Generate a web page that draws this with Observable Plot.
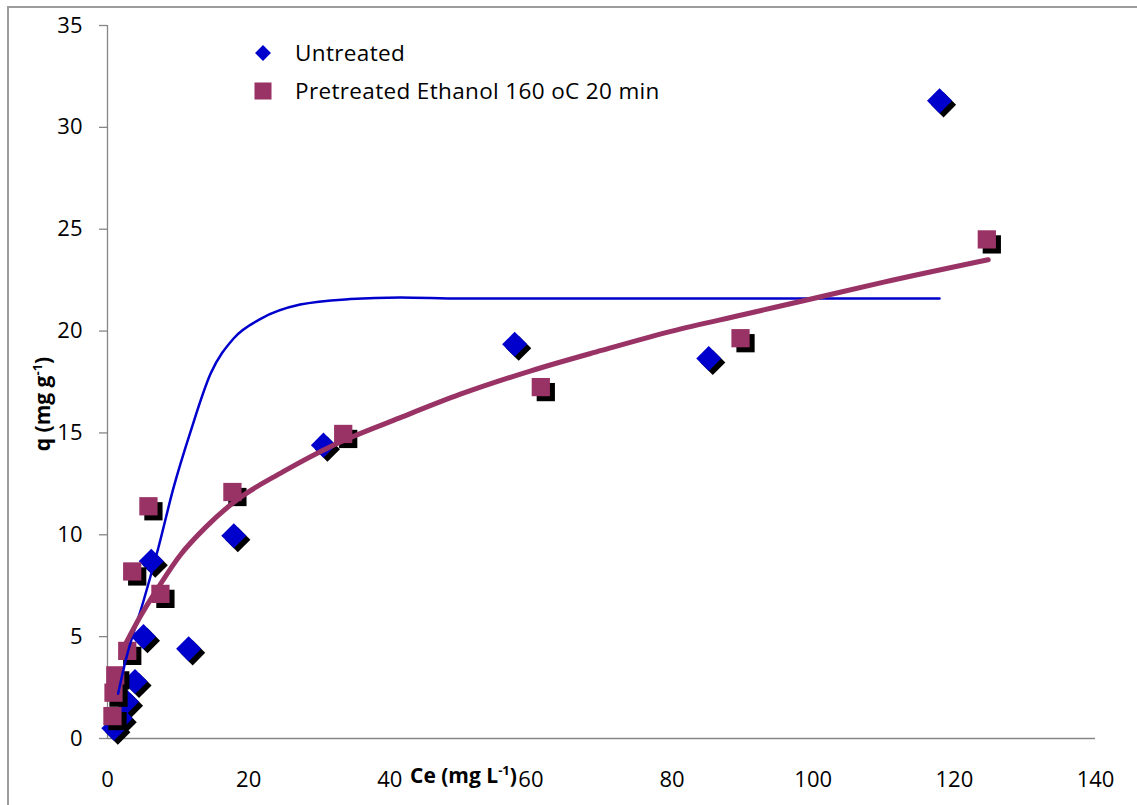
<!DOCTYPE html>
<html>
<head>
<meta charset="utf-8">
<script src="https://cdn.jsdelivr.net/npm/d3@7"></script>
<script src="https://cdn.jsdelivr.net/npm/@observablehq/plot@0.6"></script>
<style>
  html, body { margin: 0; padding: 0; background: #fff; }
  #wrap { position: relative; width: 1137px; height: 805px; overflow: hidden; font-family: "Open Sans", sans-serif; }
  #frame { position: absolute; left: 7px; top: 6px; width: 1200px; height: 900px; border: 2px solid #9c9c9c; box-sizing: border-box; pointer-events: none; }
  #chart { position: absolute; left: 0; top: 0; }
  .ttl { position: absolute; font-weight: bold; font-size: 21px; color: #000; white-space: nowrap; line-height: 1; }
  .ttl sup { font-size: 0.62em; vertical-align: 0.6em; }
  #xt { left: 410px; top: 764px; }
  #yt { left: 42px; top: 404px; transform: translate(-50%, -50%) rotate(-90deg); }
  #legend { position: absolute; left: 250px; top: 36px; }
</style>
</head>
<body>
<div id="wrap">
  <div id="chart"></div>
  <div id="frame"></div>
  <div id="xt" class="ttl">Ce (mg L<sup>-1</sup>)</div>
  <div id="yt" class="ttl">q (mg g<sup>-1</sup>)</div>
  <svg id="legend" width="460" height="75"></svg>
</div>
<script>
// ---- data ----
const seriesNames = ["Untreated", "Pretreated Ethanol 160 oC 20 min"];
const seriesColors = ["#0000cc", "#993366"];

const untreatedCe = [0.9, 1.8, 2.7, 3.9, 5.1, 6.2, 11.5, 17.9, 30.6, 57.7, 85.2, 117.9];
const untreatedQ  = [0.5, 1.0, 1.8, 2.8, 5.0, 8.7, 4.4, 9.95, 14.4, 19.35, 18.65, 31.3];

const pretreatedCe = [0.7, 0.85, 1.1, 2.8, 3.5, 5.8, 7.5, 17.7, 33.4, 61.4, 89.7, 124.6];
const pretreatedQ  = [1.1, 2.25, 3.1, 4.3, 8.2, 11.4, 7.1, 12.1, 14.95, 17.25, 19.65, 24.5];

// model (fit) curves as drawn
const untreatedFitCe = [1.5, 2.55, 5.1, 7.2, 9.35, 11.8, 14.6, 17.9, 21.7, 27.3, 34.4, 41.5, 50, 70, 90, 117.9];
const untreatedFitQ  = [2.2, 3.8, 6.75, 9.35, 12.3, 15.1, 17.9, 19.65, 20.6, 21.3, 21.57, 21.65, 21.6, 21.6, 21.6, 21.6];

const pretreatedFitCe = [2.5, 4.5, 6.8, 10.3, 14, 17.9, 24.9, 32, 41.5, 50, 60, 70, 80, 90, 100, 110, 124.8];
const pretreatedFitQ  = [4.6, 5.9, 7.2, 9.0, 10.4, 11.6, 13.1, 14.4, 15.75, 16.9, 18.05, 19.05, 20.0, 20.8, 21.6, 22.4, 23.5];

const xTicks = [0, 20, 40, 60, 80, 100, 120, 140];
const yTicks = [0, 5, 10, 15, 20, 25, 30, 35];

// ---- tables ----
const zip = (xs, ys) => xs.map((x, i) => ({x, y: ys[i]}));
const unt = zip(untreatedCe, untreatedQ);
const pre = zip(pretreatedCe, pretreatedQ);
const untFit = zip(untreatedFitCe, untreatedFitQ);
const preFit = zip(pretreatedFitCe, pretreatedFitQ);

const axisGray = "#868686";

const chart = Plot.plot({
  width: 1137,
  height: 805,
  marginLeft: 107,
  marginRight: 42,
  marginTop: 25,
  marginBottom: 67,
  style: { fontFamily: "Open Sans, sans-serif", fontSize: "22px", color: "#000", background: "transparent" },
  x: { domain: [0, 140] },
  y: { domain: [0, 35] },
  marks: [
    Plot.axisY({ ticks: yTicks, tickSize: 8, tickPadding: 17, stroke: axisGray, strokeWidth: 1.3, fill: "#000", label: null, tickFormat: d => String(d) }),
    Plot.axisX({ ticks: xTicks, tickSize: 0, tickPadding: 33, fill: "#000", label: null, tickFormat: d => String(d) }),
    Plot.ruleX([0], { stroke: axisGray, strokeWidth: 1.3 }),
    Plot.ruleY([0], { stroke: axisGray, strokeWidth: 1.3 }),
    // untreated markers
    Plot.dot(unt, { x: "x", y: "y", symbol: "diamond2", r: 11.3, fill: "#000", dx: 4, dy: 4 }),
    Plot.dot(unt, { x: "x", y: "y", symbol: "diamond2", r: 11.3, fill: seriesColors[0] }),
    // pretreated markers
    Plot.dot(pre, { x: "x", y: "y", symbol: "square", r: 10.3, fill: "#000", dx: 5, dy: 5 }),
    Plot.dot(pre, { x: "x", y: "y", symbol: "square", r: 10.3, fill: seriesColors[1] }),
    // fit lines
    Plot.line(untFit, { x: "x", y: "y", stroke: seriesColors[0], strokeWidth: 2.5, curve: "monotone-x" }),
    Plot.line(preFit, { x: "x", y: "y", stroke: seriesColors[1], strokeWidth: 5, curve: "monotone-x" })
  ]
});
document.getElementById("chart").appendChild(chart);

// ---- legend ----
const lg = d3.select("#legend");
const sym = [d3.symbolDiamond2, d3.symbolSquare];
const sizes = [160, 290];
seriesNames.forEach((name, i) => {
  const cy = 17 + i * 38;
  lg.append("path")
    .attr("d", d3.symbol(sym[i], sizes[i])())
    .attr("transform", `translate(13,${cy})`)
    .attr("fill", seriesColors[i]);
  lg.append("text")
    .attr("x", 45).attr("y", cy).attr("dy", "0.36em")
    .attr("font-family", "Open Sans, sans-serif").attr("font-size", 22.5)
    .attr("letter-spacing", "0.35px")
    .attr("fill", "#000")
    .text(name);
});
</script>
</body>
</html>
